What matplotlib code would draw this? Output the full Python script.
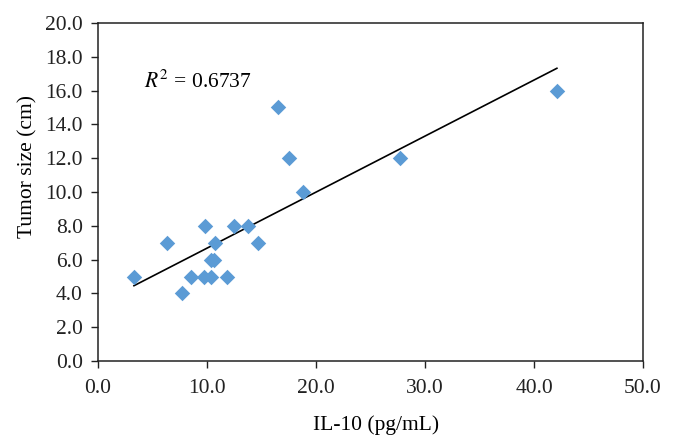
import numpy as np
import matplotlib.pyplot as plt

plt.rcParams['font.family'] = 'Liberation Serif'
plt.rcParams['mathtext.fontset'] = 'stix'

# IL-10 levels and tumor size
il10 = [3.3, 6.3, 7.7, 8.5, 9.75, 9.8, 10.4, 10.4, 10.6, 10.7, 11.8,
        12.5, 13.8, 14.65, 16.5, 17.5, 18.8, 27.7, 42.1]
tumor_size = [5, 7, 4, 5, 5, 8, 5, 6, 6, 7, 5,
              8, 8, 7, 15, 12, 10, 12, 16]
r2_text = '0.6737'

fig = plt.figure(figsize=(6.74, 4.46), dpi=100)
ax = fig.add_axes([98 / 674, 1 - 361 / 446, 545 / 674, 338 / 446])

ax.scatter(il10, tumor_size, marker='D', s=62, color='#5B9BD5',
           linewidths=0, zorder=3)

# linear trend line, like Excel's
slope, intercept = np.polyfit(il10, tumor_size, 1)
xs = np.array([min(il10), max(il10)])
ax.plot(xs, slope * xs + intercept, color='black', lw=1.2, zorder=2)

ax.text(0.084, 0.808, r'$R^2$ = ' + r2_text, transform=ax.transAxes,
        fontsize=15.5, va='baseline')

ax.set_xlim(0, 50)
ax.set_ylim(0, 20)
ax.set_xticks(np.arange(0, 51, 10))
ax.set_yticks(np.arange(0, 21, 2))
ax.xaxis.set_major_formatter(plt.FormatStrFormatter('%.1f'))
ax.yaxis.set_major_formatter(plt.FormatStrFormatter('%.1f'))
ax.tick_params(direction='out', length=5, width=1, labelsize=15.5, colors='#222222')
ax.tick_params(axis='x', pad=8)
ax.tick_params(axis='y', pad=6)
for sp in ax.spines.values():
  sp.set_linewidth(1.1)
  sp.set_color('#222222')

ax.set_xlabel('IL-10 (pg/mL)', fontsize=15.5)
ax.set_ylabel('Tumor size (cm)', fontsize=15.5)
ax.xaxis.set_label_coords(0.51, -0.19)
ax.yaxis.set_label_coords(-0.128, 0.574)
ax.xaxis.label.set_verticalalignment('center')
ax.yaxis.label.set_verticalalignment('center')

fig.savefig('out.png', dpi=100)
